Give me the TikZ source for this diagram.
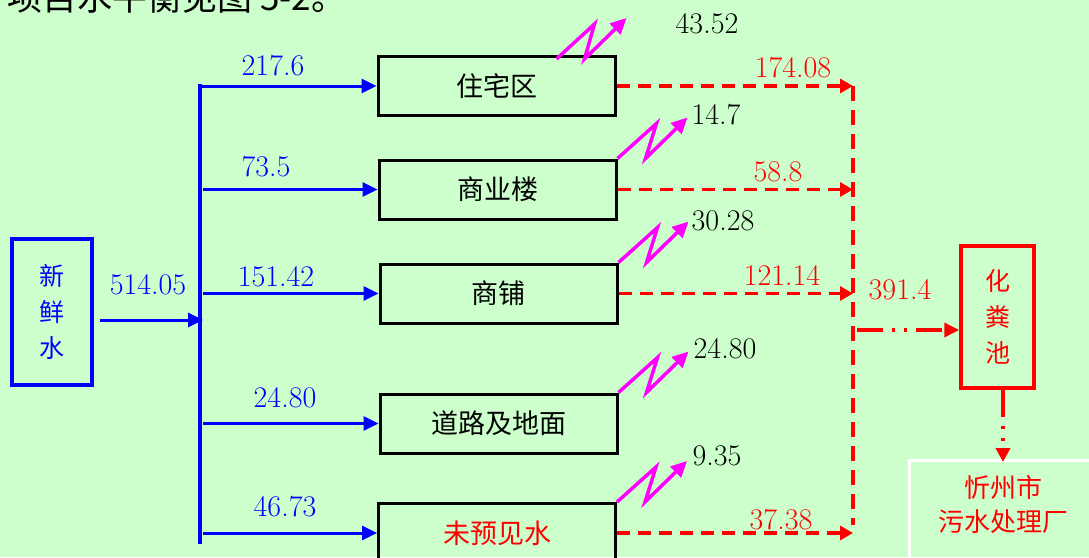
\documentclass[tikz,border=0pt]{standalone}
\usepackage{fontspec}
\newfontfamily\cjk{Noto Sans CJK SC}
\usetikzlibrary{arrows.meta,calc}
\definecolor{bg}{RGB}{204,255,204}
\definecolor{mag}{RGB}{255,0,255}
\begin{document}
\begin{tikzpicture}[x=1pt,y=-1pt,
  box/.style={draw=black, line width=3pt, minimum width=237pt, minimum height=59pt, inner sep=0pt, font=\cjk\fontsize{27}{30}\selectfont},
  vbox/.style={line width=3.5pt, inner sep=0pt, align=center, font=\cjk\fontsize{25}{36}\selectfont},
  num/.style={inner sep=0pt, font=\rmfamily\fontsize{30}{32}\selectfont},
  barrow/.style={draw=blue, line width=3pt, -{Triangle[length=15pt,width=14pt]}},
  rarrow/.style={draw=red, line width=3.5pt, dash pattern=on 13pt off 8pt, -{Triangle[length=13pt,width=14pt]}},
  zig/.style={draw=mag, line width=3.5pt, -{Triangle[length=16pt,width=15pt]}},
]
\fill[bg] (0,0) rectangle (1089,557);
\useasboundingbox (0,0) rectangle (1089,557);

% cropped heading
\node[anchor=base west, inner sep=0pt, font=\cjk\fontsize{35}{36}\selectfont] (head) at (7,10) {项目水平衡见图 5-2。};

% boxes
\node[box] (zz) at (496.5,86) {住宅区};
\node[box] (sy) at (497.5,189.5) {商业楼};
\node[box] (sp) at (498.5,293.5) {商铺};
\node[box] (dl) at (498.5,423.5) {道路及地面};
\node[box, text=red] (wy) at (497,533) {未预见水};

\node[vbox, draw=blue, text=blue, minimum width=80pt, minimum height=146pt] (xx) at (52,312) {新\\鲜\\水};
\node[vbox, draw=red, text=red, minimum width=73pt, minimum height=142pt] (hf) at (997.5,317) {化\\粪\\池};
\node[draw=white, line width=3pt, minimum width=220pt, minimum height=130pt, anchor=north west, inner sep=0pt] (ws) at (908,459) {};
\node[align=center, text=red, inner sep=0pt, font=\cjk\fontsize{26}{34}\selectfont] (wst) at (1003,505) {忻州市\\污水处理厂};

% coordinates
\coordinate (bustop) at (200,86);
\coordinate (busbot) at (200,542);
\coordinate (bx) at (203,0);
\coordinate (in1) at (100,320);
\coordinate (vx) at (853,0);
\coordinate (vbot) at (853,525);
\coordinate (jn) at (857,330);
\coordinate (dx) at (1003,0);

% blue supply
\draw[blue, line width=4pt, line cap=rect] (busbot) -- (bustop);
\draw[barrow] (bustop) -- (zz.west);
\draw[barrow] (sy.west -| bx) -- (sy.west);
\draw[barrow] (sp.west -| bx) -- (sp.west);
\draw[barrow] (dl.west -| bx) -- (dl.west);
\draw[barrow] (wy.west -| bx) -- (wy.west);
\draw[barrow] (in1) -- (in1 -| bx);

\node[num, text=blue] (l0) at (148,285) {514.05};
\node[num, text=blue] (l1) at (273,66) {217.6};
\node[num, text=blue] (l2) at (266,167) {73.5};
\node[num, text=blue] (l3) at (276,277) {151.42};
\node[num, text=blue] (l4) at (285,398) {24.80};
\node[num, text=blue] (l5) at (285,507) {46.73};

% red drainage
\draw[rarrow] (zz.east) -- (zz.east -| vx);
\draw[rarrow] (sy.east) -- (sy.east -| vx);
\draw[rarrow] (sp.east) -- (sp.east -| vx);
\draw[rarrow] (wy.east) -- (wy.east -| vx);
\draw[red, line width=3.5pt, dash pattern=on 15pt off 9pt] (zz.east -| vx) -- (vbot);

\node[num, text=red] (r1) at (793,68) {174.08};
\node[num, text=red] (r2) at (778,172) {58.8};
\node[num, text=red] (r3) at (782,275) {121.14};
\node[num, text=red] (r4) at (781,520) {37.38};
\node[num, text=red] (r5) at (900,290) {391.4};

\draw[red, line width=3.5pt, dash pattern=on 26pt off 9pt on 3pt off 9pt on 3pt off 9pt, -{Triangle[length=15pt,width=14pt]}] (jn) -- (jn -| hf.west);
\draw[red, line width=3.5pt, dash pattern=on 27pt off 9pt on 3pt off 9pt on 3pt off 9pt, -{Triangle[length=14pt,width=14pt]}] (hf.south -| dx) -- ($(ws.north -| dx)+(0,3)$);

% losses (magenta zigzags)
\draw[zig] ($(zz.north east)+(-60,4)$) -- ++(38,-35) -- ++(-10,35) -- ++(42,-41);
\draw[zig] (sy.north east) -- ++(39,-35) -- ++(-11,35) -- ++(42,-41);
\draw[zig] (sp.north east) -- ++(39,-35) -- ++(-11,35) -- ++(42,-41);
\draw[zig] (dl.north east) -- ++(39,-35) -- ++(-11,35) -- ++(42,-41);
\draw[zig] (wy.north east) -- ++(39,-35) -- ++(-11,35) -- ++(42,-41);

\node[num] (k1) at (707,24) {43.52};
\node[num] (k2) at (716,115) {14.7};
\node[num] (k3) at (723,221) {30.28};
\node[num] (k4) at (725,349) {24.80};
\node[num] (k5) at (717,456) {9.35};
\end{tikzpicture}
\end{document}
